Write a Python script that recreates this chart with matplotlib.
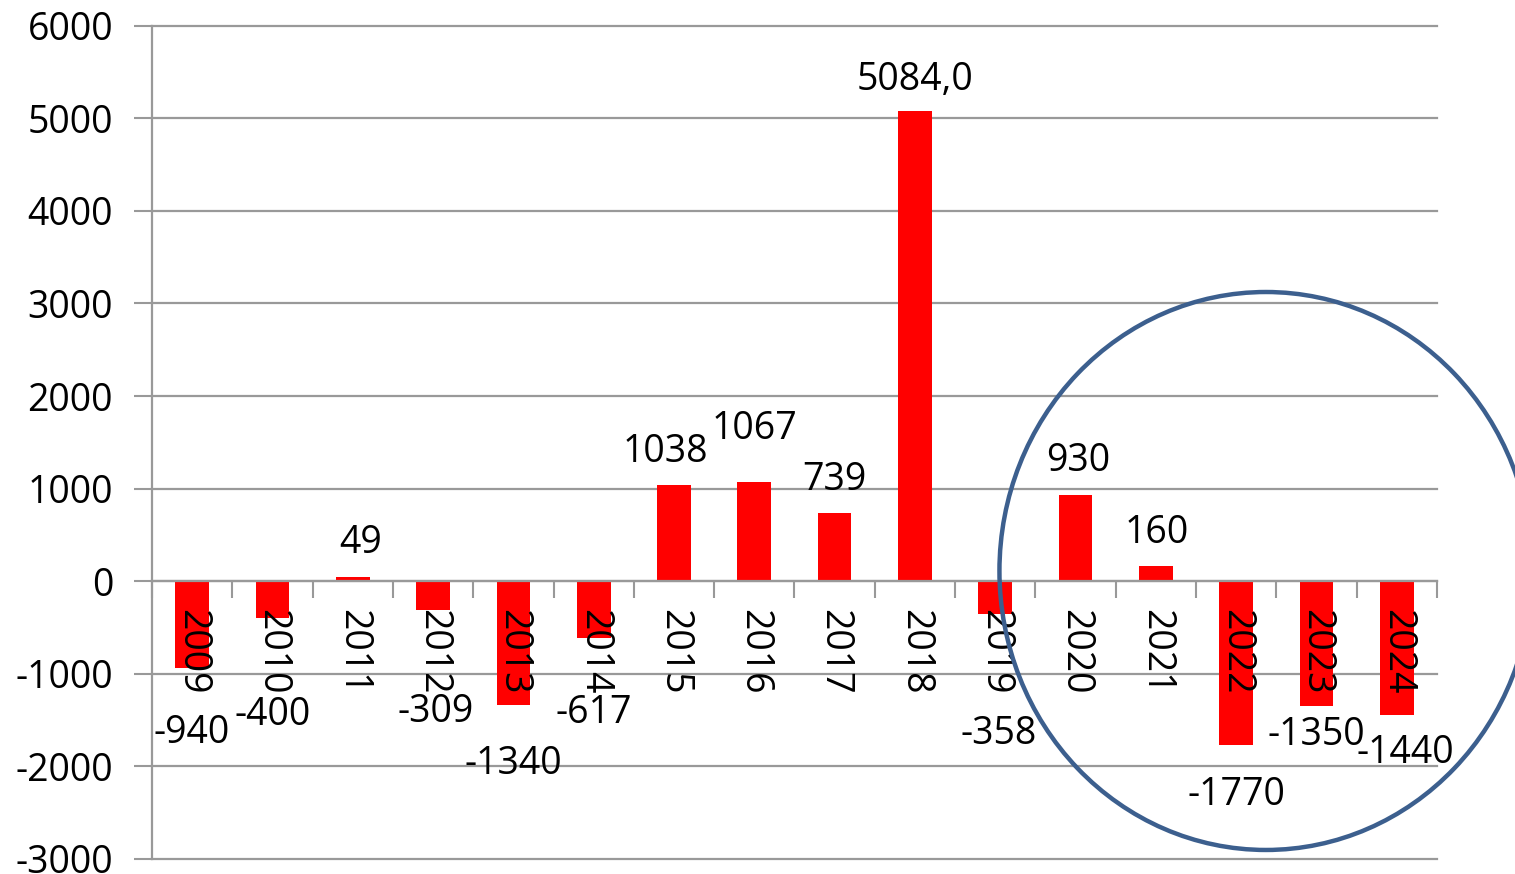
import matplotlib
matplotlib.use("Agg")
import matplotlib.pyplot as plt
from matplotlib.patches import Ellipse
import numpy as np

plt.rcParams['font.family'] = ['Open Sans', 'DejaVu Sans']
plt.rcParams['axes.unicode_minus'] = False

years = ['2009', '2010', '2011', '2012', '2013', '2014', '2015', '2016',
         '2017', '2018', '2019', '2020', '2021', '2022', '2023', '2024']
values = [-940, -400, 49, -309, -1340, -617, 1038, 1067,
          739, 5084, -358, 930, 160, -1770, -1350, -1440]
value_labels = ['-940', '-400', '49', '-309', '-1340', '-617', '1038', '1067',
                '739', '5084,0', '-358', '930', '160', '-1770', '-1350', '-1440']

# label placement relative to the bar end (pixels, visual centre of the digits)
label_dx = [0, 0, 8, 3, 0, 0, -9, 0, 0, 0, 3, 3, 1, 0, 0, 8]
label_dy = [61, 93, -38, 98, 55, 71, -37, -57, -37, -35, 116, -38, -37, 46, 25, 34]

FS = 27
GRID = '#999999'

fig = plt.figure(figsize=(15.15, 8.74), dpi=100)
ax = fig.add_axes([0.1003, 0.0172, 0.8482, 0.9534])

x = np.arange(len(years))
ax.bar(x, values, width=0.42, color='#ff0000', zorder=3)

ax.set_xlim(-0.5, len(years) - 0.5)
ax.set_ylim(-3000, 6000)
ax.set_yticks(np.arange(-3000, 6001, 1000))
ax.tick_params(axis='y', labelsize=FS, length=13, width=1.5, color=GRID, pad=15)
ax.yaxis.grid(True, color=GRID, linewidth=1.6, zorder=0)
for gl in ax.get_ygridlines():
    gl.set_clip_on(False)

# category axis sits on the zero line
ax.spines['bottom'].set_position(('data', 0))
ax.spines['bottom'].set_color(GRID)
ax.spines['bottom'].set_linewidth(1.6)
ax.spines['bottom'].set_zorder(4)
ax.spines['left'].set_color(GRID)
ax.spines['left'].set_linewidth(1.6)
ax.spines['top'].set_visible(False)
ax.spines['right'].set_visible(False)

ax.set_xticks(x)
ax.set_xticklabels(years, rotation=-90, fontsize=FS)
ax.set_xticks(np.arange(-0.5, len(years), 1.0), minor=True)
ax.tick_params(axis='x', which='major', length=0, pad=20)
ax.tick_params(axis='x', which='minor', length=12, width=1.5, color=GRID)
ax.xaxis.set_zorder(5)

for xi, v, txt, dx, dy in zip(x, values, value_labels, label_dx, label_dy):
    ax.annotate(txt, xy=(xi, v), xytext=(dx, -(dy + 14)),
                textcoords='offset pixels', ha='center', va='baseline',
                fontsize=FS, annotation_clip=False, zorder=6)

# highlight ring around the most recent years
ring = Ellipse((0.8356, 0.3467), width=0.3518, height=0.6384,
               transform=fig.transFigure, fill=False,
               edgecolor='#3c5f8e', linewidth=3.2, zorder=10)
fig.patches.append(ring)

fig.savefig('out.png', dpi=100)
